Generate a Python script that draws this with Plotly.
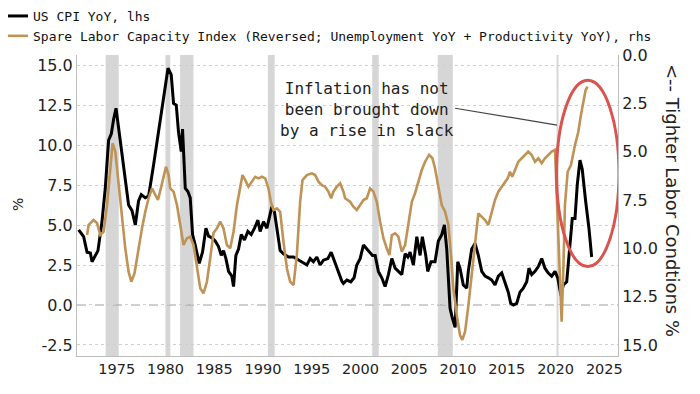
import plotly.graph_objects as go

# ---------------- data ----------------
cpi_year = [1971.10, 1971.61, 1971.96, 1972.30, 1972.47, 1972.81, 1973.08, 1973.49, 1973.83, 1974.17,
            1974.45, 1974.68, 1974.93, 1975.19, 1975.54, 1975.88, 1976.22, 1976.57, 1976.91, 1977.24,
            1977.52, 1977.93, 1978.27, 1978.78, 1979.29, 1979.81, 1980.26, 1980.59, 1980.83, 1981.11,
            1981.34, 1981.62, 1981.75, 1982.03, 1982.30, 1982.54, 1982.78, 1983.05, 1983.46, 1983.80,
            1984.15, 1984.42, 1984.76, 1985.10, 1985.44, 1985.72, 1985.95, 1986.20, 1986.47, 1986.81,
            1986.98, 1987.22, 1987.49, 1987.77, 1988.10, 1988.45, 1988.79, 1989.13, 1989.48, 1989.71,
            1990.05, 1990.40, 1990.64, 1990.91, 1991.18, 1991.42, 1991.76, 1992.10, 1992.61, 1993.13,
            1993.64, 1994.15, 1994.50, 1994.84, 1995.17, 1995.52, 1995.86, 1996.20, 1996.65, 1996.99,
            1997.33, 1997.74, 1998.08, 1998.25, 1998.60, 1999.00, 1999.34, 1999.62, 1999.96, 2000.30,
            2000.64, 2000.98, 2001.22, 2001.50, 2001.83, 2002.18, 2002.52, 2002.86, 2003.21, 2003.55,
            2003.88, 2004.23, 2004.57, 2004.85, 2005.08, 2005.42, 2005.77, 2006.11, 2006.34, 2006.69,
            2006.89, 2007.23, 2007.64, 2007.98, 2008.33, 2008.60, 2008.84, 2009.00, 2009.18, 2009.41,
            2009.70, 2009.97, 2010.20, 2010.54, 2010.89, 2011.05, 2011.40, 2011.74, 2012.08, 2012.43,
            2012.77, 2013.11, 2013.45, 2013.79, 2014.13, 2014.48, 2014.82, 2015.15, 2015.40, 2015.67,
            2016.01, 2016.35, 2016.69, 2017.04, 2017.27, 2017.55, 2017.89, 2018.23, 2018.58, 2018.91,
            2019.25, 2019.60, 2019.94, 2020.22, 2020.55, 2020.79, 2021.14, 2021.48, 2021.71, 2021.99,
            2022.22, 2022.50, 2022.73, 2023.08, 2023.42, 2023.70]
cpi_val = [4.7, 4.27, 3.3, 3.25, 2.7, 3.1, 3.4, 5.2, 7.3, 10.3,
           10.7, 11.6, 12.3, 11.1, 9.4, 7.7, 6.25, 5.9, 5.0, 6.5,
           6.9, 6.7, 6.8, 8.75, 10.8, 13.1, 14.8, 14.4, 12.6, 12.5,
           10.8, 9.6, 11.0, 7.3, 7.1, 6.7, 4.4, 3.75, 2.6, 3.3,
           4.8, 4.3, 4.2, 4.0, 3.65, 3.1, 3.4, 2.9, 2.1, 1.8,
           1.15, 3.1, 3.5, 4.4, 4.06, 4.6, 4.4, 4.8, 5.3, 4.6,
           5.2, 4.8, 5.4, 6.15, 5.8, 4.8, 3.4, 3.2, 3.0, 3.0,
           2.8, 2.6, 2.5, 2.9, 2.7, 3.0, 2.5, 2.8, 2.9, 3.3,
           2.7, 2.1, 1.5, 1.35, 1.56, 1.45, 1.7, 2.5, 2.9, 3.75,
           3.5, 3.3, 3.1, 3.1, 2.1, 1.7, 1.15, 1.9, 2.9, 2.3,
           2.1, 1.9, 3.2, 3.0, 3.3, 2.5, 4.27, 3.1, 4.27, 3.1,
           2.1, 2.7, 2.7, 4.0, 4.4, 5.0, 3.5, 1.45, -0.2, -0.8,
           -1.4, 2.7, 2.3, 1.25, 1.05, 2.1, 3.5, 3.85, 3.1, 2.1,
           1.8, 1.7, 1.56, 1.25, 1.8, 2.0, 1.45, 0.8, 0.1, 0.0,
           0.1, 0.8, 1.05, 1.45, 2.3, 1.9, 2.1, 2.4, 2.9, 2.3,
           2.0, 1.8, 2.1, 1.7, 0.6, 1.25, 1.45, 4.0, 5.4, 5.4,
           7.5, 9.06, 8.5, 6.5, 4.8, 3.0]

slci_year = [1971.96, 1972.12, 1972.63, 1972.98, 1973.32, 1973.66, 1974.01, 1974.34, 1974.58, 1974.86,
             1975.19, 1975.54, 1975.88, 1976.22, 1976.50, 1976.83, 1977.24, 1977.59, 1977.93, 1978.27,
             1978.62, 1978.96, 1979.23, 1979.57, 1979.81, 1980.05, 1980.32, 1980.49, 1980.83, 1981.18,
             1981.52, 1981.85, 1982.20, 1982.54, 1982.88, 1983.23, 1983.57, 1983.90, 1984.25, 1984.59,
             1984.93, 1985.28, 1985.61, 1985.95, 1986.30, 1986.64, 1986.98, 1987.33, 1987.66, 1987.90,
             1988.18, 1988.51, 1988.86, 1989.20, 1989.54, 1989.89, 1990.23, 1990.56, 1990.84, 1991.08,
             1991.42, 1991.76, 1992.10, 1992.45, 1992.79, 1993.13, 1993.47, 1993.81, 1994.05, 1994.50,
             1995.01, 1995.35, 1995.69, 1996.03, 1996.37, 1996.71, 1996.99, 1997.22, 1997.57, 1997.91,
             1998.25, 1998.42, 1998.93, 1999.27, 1999.62, 1999.96, 2000.30, 2000.64, 2000.98, 2001.32,
             2001.67, 2002.01, 2002.35, 2002.69, 2002.96, 2003.21, 2003.55, 2003.88, 2004.23, 2004.57,
             2004.91, 2005.26, 2005.59, 2005.93, 2006.28, 2006.62, 2007.03, 2007.37, 2007.64, 2007.98,
             2008.33, 2008.67, 2009.01, 2009.28, 2009.52, 2009.87, 2010.20, 2010.44, 2010.72, 2011.05,
             2011.40, 2011.74, 2012.08, 2012.43, 2012.77, 2013.11, 2013.45, 2013.79, 2014.13, 2014.48,
             2014.82, 2015.09, 2015.33, 2015.56, 2015.84, 2016.18, 2016.53, 2016.86, 2017.20, 2017.55,
             2017.89, 2018.23, 2018.58, 2018.91, 2019.25, 2019.60, 2019.94, 2020.22, 2020.45, 2020.62,
             2020.79, 2020.96, 2021.24, 2021.58, 2021.99, 2022.33, 2022.60, 2022.84, 2023.08, 2023.29]
slci_val = [9.31, 8.79, 8.54, 8.69, 9.31, 9.14, 7.76, 5.69, 4.57, 5.0,
            6.55, 8.45, 10.0, 11.21, 11.73, 11.29, 10.0, 8.97, 8.11, 7.41,
            6.90, 7.24, 7.50, 6.81, 6.21, 5.78, 6.21, 6.90, 7.07, 7.76,
            8.79, 9.83, 9.48, 9.40, 9.83, 11.03, 12.07, 12.33, 11.73, 10.5,
            9.2, 8.97, 8.62, 8.97, 9.83, 10.0, 9.14, 7.76, 6.73, 6.21,
            6.47, 6.81, 6.55, 6.30, 6.38, 6.30, 6.38, 6.90, 7.67, 8.02,
            7.93, 8.11, 9.66, 11.03, 11.73, 11.90, 10.35, 7.59, 6.47, 6.21,
            6.12, 6.21, 6.55, 6.73, 6.81, 7.07, 7.41, 7.07, 6.81, 6.64,
            7.07, 7.41, 7.59, 7.85, 8.02, 7.76, 7.50, 7.41, 6.90, 7.07,
            7.59, 8.62, 9.48, 10.0, 10.35, 9.31, 9.22, 9.40, 10.18, 9.83,
            8.62, 7.59, 7.15, 6.55, 5.95, 5.52, 5.17, 5.34, 5.86, 6.81,
            7.76, 8.11, 8.79, 10.35, 12.07, 13.45, 14.49, 14.74, 14.31, 13.0,
            11.4, 9.8, 8.19, 8.37, 8.54, 8.79, 8.11, 7.50, 7.07, 6.81,
            6.55, 6.38, 6.04, 6.30, 5.95, 5.52, 5.34, 5.17, 5.0, 5.17,
            5.52, 5.34, 5.60, 5.34, 5.17, 5.0, 4.91, 8.62, 12.07, 13.80,
            11.21, 7.76, 6.04, 5.69, 4.66, 3.97, 3.10, 2.42, 1.81, 1.64]

recession_start = [1973.87, 1980.00, 1981.50, 1990.50, 2001.20, 2007.92, 2020.10]
recession_end = [1975.21, 1980.50, 1982.87, 1991.20, 2001.87, 2009.46, 2020.30]

x_ticks = [1975, 1980, 1985, 1990, 1995, 2000, 2005, 2010, 2015, 2020, 2025]
left_ticks = [-2.5, 0.0, 2.5, 5.0, 7.5, 10.0, 12.5, 15.0]
right_ticks = [0.0, 2.5, 5.0, 7.5, 10.0, 12.5, 15.0]

cpi_name = "US CPI YoY, lhs"
slci_name = "Spare Labor Capacity Index (Reversed; Unemployment YoY + Productivity YoY), rhs"
note_text = "Inflation has not<br>been brought down<br>by a rise in slack"
right_title = "&lt;-- Tighter Labor Condtions %"

# ---------------- figure ----------------
MONO = "DejaVu Sans Mono"
SANS = "DejaVu Sans"
GOLD = "#bf9256"

W, H = 700, 394
L, R, T, B = 69, 90, 47, 46          # page body has an 8px offset
PW, PH = W - L - R, H - T - B


def px_x(p):  # figure pixel -> paper x
    return (p - L) / PW


def px_y(p):  # figure pixel -> paper y
    return (H - B - p) / PH


fig = go.Figure()
fig.add_trace(go.Scatter(x=slci_year, y=slci_val, name=slci_name, yaxis="y2",
                         mode="lines", line=dict(color=GOLD, width=2.6)))
fig.add_trace(go.Scatter(x=cpi_year, y=cpi_val, name=cpi_name, yaxis="y",
                         mode="lines", line=dict(color="#000000", width=3)))

shapes = []
for s, e in zip(recession_start, recession_end):
    shapes.append(dict(type="rect", xref="x", yref="paper", x0=s, x1=e, y0=0, y1=1,
                       fillcolor="#d6d6d6", line=dict(width=0), layer="below"))
shapes.append(dict(type="line", xref="paper", yref="y", x0=0, x1=1, y0=0, y1=0,
                   line=dict(color="#a0a0a0", width=1.2, dash="dash"), layer="below"))
shapes.append(dict(type="line", xref="x", yref="y", x0=2009.7, y0=12.3, x1=2020.15, y1=11.25,
                   line=dict(color="#444444", width=1.2)))
shapes.append(dict(type="circle", xref="x", yref="y", x0=2020.1, x1=2026.5, y0=2.4, y1=14.05,
                   line=dict(color="#d9534f", width=3)))

fig.update_layout(
    width=W, height=H,
    margin=dict(l=L, r=R, t=T, b=B, autoexpand=False),
    paper_bgcolor="white", plot_bgcolor="white",
    shapes=shapes,
    showlegend=True,
    legend=dict(x=px_x(-15), y=px_y(-7), xref="paper", yref="paper",
                xanchor="left", yanchor="top",
                orientation="v", traceorder="reversed", itemwidth=30,
                font=dict(family=MONO, size=13, color="#111111"),
                bgcolor="rgba(0,0,0,0)", tracegroupgap=0),
    xaxis=dict(range=[1970.93, 2026.4], tickmode="array", tickvals=x_ticks,
               ticktext=[str(t) for t in x_ticks], showgrid=False, zeroline=False,
               showline=True, linecolor="#bdbdbd", linewidth=1, ticks="",
               tickfont=dict(family=SANS, size=14.5, color="#222222")),
    yaxis=dict(range=[-3.19, 15.63], tickmode="array", tickvals=left_ticks,
               ticktext=[f"{v:.1f}" for v in left_ticks], showgrid=True,
               gridcolor="#cfcfcf", griddash="dot", gridwidth=1, zeroline=False,
               showline=True, linecolor="#bdbdbd", linewidth=1, ticks="",
               tickfont=dict(family=SANS, size=16, color="#222222")),
    yaxis2=dict(range=[15.57, 0], overlaying="y", side="right", tickmode="array",
                tickvals=right_ticks, ticktext=[f"{v:.1f}" for v in right_ticks],
                showgrid=False, zeroline=False, showline=True, linecolor="#bdbdbd",
                linewidth=1, ticks="", tickfont=dict(family=SANS, size=16, color="#222222")),
    annotations=[
        dict(text=note_text, x=2000.68, y=12.25, xref="x", yref="y", showarrow=False,
             font=dict(family=MONO, size=16, color="#222222"), align="center",
             xanchor="center", yanchor="middle"),
        dict(text=right_title, x=px_x(665), y=px_y(192),
             xref="paper", yref="paper", showarrow=False, textangle=90,
             xanchor="center", yanchor="middle",
             font=dict(family=SANS, size=18, color="#222222")),
        dict(text="%", x=px_x(10), y=px_y(197),
             xref="paper", yref="paper", showarrow=False, textangle=-90,
             xanchor="center", yanchor="middle",
             font=dict(family=SANS, size=14, color="#222222")),
    ],
)

fig.write_html("out.html")
